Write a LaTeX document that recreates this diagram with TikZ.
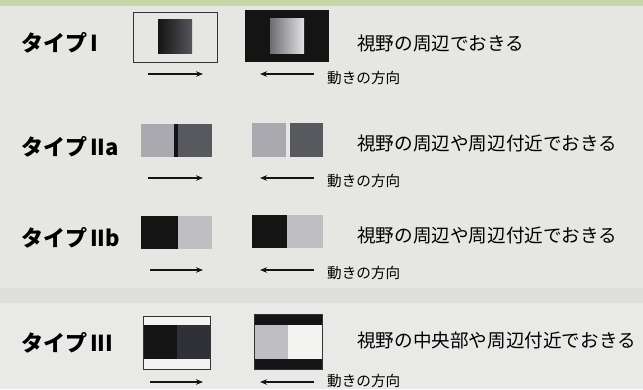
\documentclass[tikz,border=0pt]{standalone}
\usepackage{fontspec}
\setmainfont{Noto Sans CJK JP}
\usetikzlibrary{arrows.meta}
\definecolor{bg}{HTML}{E6E6E3}
\definecolor{bgband}{HTML}{DFDFDC}
\definecolor{bglow}{HTML}{E9E9E7}
\definecolor{topgreen}{HTML}{C6D7A6}
\definecolor{lgray}{HTML}{A9A9AF}
\definecolor{llgray}{HTML}{BEBEC3}
\definecolor{dgray}{HTML}{58585F}
\definecolor{ddgray}{HTML}{303038}
\definecolor{ink}{HTML}{141414}
\definecolor{paper}{HTML}{F3F3F1}
\definecolor{gradmid}{HTML}{6C6C74}
\definecolor{gradlight}{HTML}{E2E2E2}
\definecolor{gradend}{HTML}{55555C}
\tikzset{
  title/.style={anchor=west,inner sep=0pt,font=\fontsize{22}{24}\selectfont\bfseries},
  desc/.style={anchor=west,inner sep=0pt,font=\fontsize{18.6}{20}\selectfont},
  dirlabel/.style={anchor=west,inner sep=0pt,font=\fontsize{14.6}{16}\selectfont},
  move/.style={-{Stealth[length=7pt,width=5.5pt]},line width=1.2pt,draw=ink},
  frame/.style={draw=black!80,line width=0.7pt},
}
\begin{document}
\begin{tikzpicture}[x=1pt,y=-1pt]
\useasboundingbox (0,0) rectangle (643,389);
\fill[bg] (0,0) rectangle (643,389);
\fill[topgreen] (0,0) rectangle (643,6);
\fill[bglow] (0,303) rectangle (643,389);
\fill[bgband] (0,288) rectangle (643,303);

% ---- Type I ----
\node[title] (t1) at (21,43) {タイプ\hspace{3pt}I};
\draw[frame] (133,12) rectangle (217,62);
\shade[left color=ink, right color=gradend] (158,19) rectangle (192,53);
\fill[ink] (245,10) rectangle (329,62);
\shade[left color=gradmid, right color=gradlight] (270,18) rectangle (304,53);
\coordinate (a1s) at (148,74); \coordinate (a1e) at (203,74);
\coordinate (b1s) at (314,74); \coordinate (b1e) at (260,74);
\draw[move] (a1s) -- (a1e);
\draw[move] (b1s) -- (b1e);
\node[dirlabel] (d1) at (327,78) {動きの方向};
\node[desc] (s1) at (357,43) {視野の周辺でおきる};

% ---- Type IIa ----
\node[title] (t2) at (21,147) {タイプ\hspace{3pt}IIa};
\fill[lgray] (141,124) rectangle (174,157);
\fill[ink] (174,124) rectangle (178,157);
\fill[dgray] (178,124) rectangle (212,157);
\fill[lgray] (252,123) rectangle (286,157);
\fill[dgray] (290,123) rectangle (323,157);
\coordinate (a2s) at (148,178); \coordinate (a2e) at (203,178);
\coordinate (b2s) at (314,178); \coordinate (b2e) at (260,178);
\draw[move] (a2s) -- (a2e);
\draw[move] (b2s) -- (b2e);
\node[dirlabel] (d2) at (327,181) {動きの方向};
\node[desc] (s2) at (357,143) {視野の周辺や周辺付近でおきる};

% ---- Type IIb ----
\node[title] (t3) at (21,238) {タイプ\hspace{3pt}IIb};
\fill[ink] (141,216) rectangle (178,249);
\fill[llgray] (178,216) rectangle (212,249);
\fill[ink] (252,215) rectangle (287,248);
\fill[llgray] (287,215) rectangle (323,248);
\coordinate (a3s) at (150,270); \coordinate (a3e) at (203,270);
\coordinate (b3s) at (314,270); \coordinate (b3e) at (260,270);
\draw[move] (a3s) -- (a3e);
\draw[move] (b3s) -- (b3e);
\node[dirlabel] (d3) at (327,273) {動きの方向};
\node[desc] (s3) at (357,235) {視野の周辺や周辺付近でおきる};

% ---- Type III ----
\node[title] (t4) at (21,343) {タイプ\hspace{3pt}III};
\fill[paper] (143,316) rectangle (210,369);
\fill[ink] (143,325) rectangle (177,359);
\fill[ddgray] (177,325) rectangle (210,359);
\draw[frame] (143,316) rectangle (210,369);
\fill[paper] (254,314) rectangle (322,369);
\fill[ink] (254,314) rectangle (322,325);
\fill[ink] (254,359) rectangle (322,369);
\fill[llgray] (254,325) rectangle (288,359);
\draw[frame] (254,314) rectangle (322,369);
\coordinate (a4s) at (150,382); \coordinate (a4e) at (203,382);
\coordinate (b4s) at (314,382); \coordinate (b4e) at (260,382);
\draw[move] (a4s) -- (a4e);
\draw[move] (b4s) -- (b4e);
\node[dirlabel] (d4) at (327,381) {動きの方向};
\node[desc] (s4) at (357,340) {視野の中央部や周辺付近でおきる};
\end{tikzpicture}
\end{document}
